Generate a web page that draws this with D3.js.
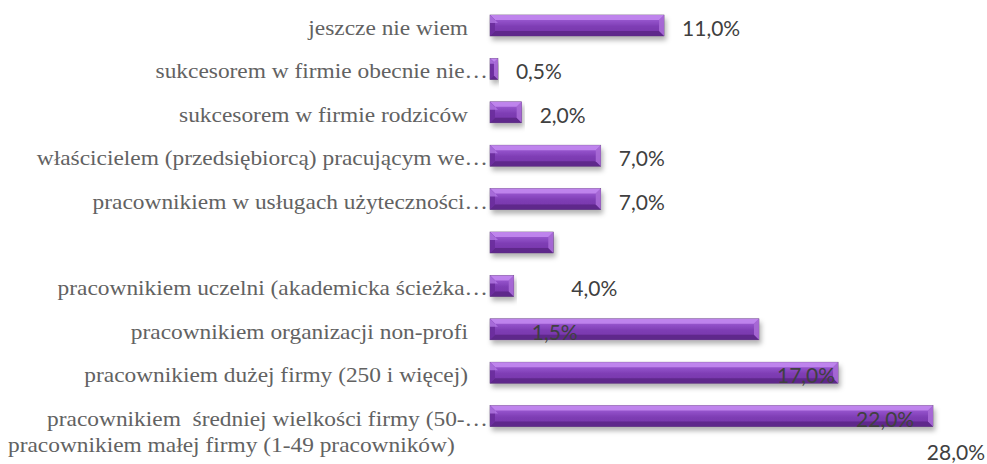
<!DOCTYPE html>
<html>
<head>
<meta charset="utf-8">
<script src="https://cdn.jsdelivr.net/npm/d3@7"></script>
<style>
	html, body
	{
		margin: 0;
		padding: 0;
		background: #ffffff;
	}
	svg
	{
		display: block;
	}
	.cat
	{
		font-family: 'Liberation Serif', 'DejaVu Serif', serif;
		font-size: 20px;
		fill: #626262;
		white-space: pre;
	}
	.val
	{
		font-family: Lato, 'Open Sans', sans-serif;
		font-size: 21px;
		fill: #404040;
	}
</style>
</head>
<body>
<div id="chart"></div>
<script>
'use strict';

	// one entry per row, top to bottom (row 6 has no category text in the source)
	var arrayCategories = [
		'jeszcze nie wiem',
		'sukcesorem w firmie obecnie nie…',
		'sukcesorem w firmie rodziców',
		'właścicielem (przedsiębiorcą) pracującym we…',
		'pracownikiem w usługach użyteczności…',
		'',
		'pracownikiem uczelni (akademicka ścieżka…',
		'pracownikiem organizacji non-profi',
		'pracownikiem dużej firmy (250 i więcej)',
		'pracownikiem  średniej wielkości firmy (50-…',
		'pracownikiem małej firmy (1-49 pracowników)'
	];

	// bar lengths per row (%), null = no bar drawn
	var arrayBarValues = [11, 0.5, 2, 7, 7, 4, 1.5, 17, 22, 28, null];

	// data labels per row (%), as they sit in the source (shifted by one row from row 6 on)
	var arrayLabelValues = [11, 0.5, 2, 7, 7, null, 4, 1.5, 17, 22, 28];

	var nWidth = 987;
	var nHeight = 464;
	var fStretch = 1.17;   // the category text is drawn a bit wide in the source

	var svg = d3.select('#chart')
		.append('svg')
		.attr('width', nWidth)
		.attr('height', nHeight);

	var x = d3.scaleLinear()
		.domain([0, 28])
		.range([490, 933]);

	var y = d3.scalePoint()
		.domain(d3.range(arrayCategories.length))
		.range([25.5, 459.5]);

	var nBarHeight = 21;
	var nBevel = 5;

	var defs = svg.append('defs');

	var gradBody = defs.append('linearGradient')
		.attr('id', 'gradBody')
		.attr('x1', 0).attr('y1', 0).attr('x2', 0).attr('y2', 1);
	[
		['0%', '#a562d8'],
		['30%', '#9150c8'],
		['55%', '#7e3db4'],
		['100%', '#7434a8']
	].forEach(function(arrayStop)
	{
		gradBody.append('stop').attr('offset', arrayStop[0]).attr('stop-color', arrayStop[1]);
	});

	var shadow = defs.append('filter')
		.attr('id', 'barShadow')
		.attr('x', '-10%').attr('y', '-30%')
		.attr('width', '120%').attr('height', '200%');
	shadow.append('feDropShadow')
		.attr('dx', 2)
		.attr('dy', 4)
		.attr('stdDeviation', 2.5)
		.attr('flood-color', '#000000')
		.attr('flood-opacity', 0.3);

	var arrayBars = arrayBarValues
		.map(function(fValue, nIndex) { return {row: nIndex, value: fValue}; })
		.filter(function(d) { return d.value != null; });

	var gBars = svg.append('g');

	var gBar = gBars.selectAll('g.bar')
		.data(arrayBars)
		.enter()
		.append('g')
		.attr('class', 'bar');

	gBar.append('rect')
		.attr('x', x(0))
		.attr('y', function(d) { return y(d.row) - nBarHeight / 2; })
		.attr('width', function(d) { return x(d.value) - x(0); })
		.attr('height', nBarHeight)
		.attr('fill', 'url(#gradBody)')
		.attr('stroke', '#5d4470')
		.attr('stroke-width', 0.6)
		.attr('filter', 'url(#barShadow)');

	// bevel faces: top, bottom, left, right
	function BevelPoints(d, strSide)
	{
		var x0 = x(0);
		var x1 = x(d.value);
		var y0 = y(d.row) - nBarHeight / 2;
		var y1 = y(d.row) + nBarHeight / 2;
		var b = Math.min(nBevel, (x1 - x0) / 2);
		var arrayPts;
		if (strSide == 'top')
		{
			arrayPts = [[x0, y0], [x1, y0], [x1 - b, y0 + b], [x0 + b, y0 + b]];
		}
		else if (strSide == 'bottom')
		{
			arrayPts = [[x0, y1], [x1, y1], [x1 - b, y1 - b], [x0 + b, y1 - b]];
		}
		else if (strSide == 'left')
		{
			arrayPts = [[x0, y0], [x0 + b, y0 + b], [x0 + b, y1 - b], [x0, y1]];
		}
		else
		{
			arrayPts = [[x1, y0], [x1 - b, y0 + b], [x1 - b, y1 - b], [x1, y1]];
		}
		return arrayPts.map(function(p) { return p.join(','); }).join(' ');
	}

	var objBevelColors = {
		top: '#c288f0',
		bottom: '#5c2787',
		left: '#6a2e9c',
		right: '#a86ad6'
	};

	['top', 'bottom', 'left', 'right'].forEach(function(strSide)
	{
		gBar.append('polygon')
			.attr('points', function(d) { return BevelPoints(d, strSide); })
			.attr('fill', objBevelColors[strSide])
			.attr('opacity', 0.9);
	});

	// left top highlight triangle, as in the source bevel
	gBar.append('polygon')
		.attr('points', function(d)
		{
			var x0 = x(0);
			var y0 = y(d.row) - nBarHeight / 2;
			var b = Math.min(nBevel + 3, (x(d.value) - x0) / 1.5);
			return [[x0, y0], [x0 + b, y0 + b], [x0, y0 + b]].map(function(p) { return p.join(','); }).join(' ');
		})
		.attr('fill', '#b47ae6')
		.attr('opacity', 0.8);

	// category labels
	var fCatMaxY = 452;
	var gCats = svg.append('g');
	gCats.selectAll('text')
		.data(arrayCategories)
		.enter()
		.append('text')
		.attr('class', 'cat')
		.attr('text-anchor', 'end')
		.text(function(d) { return d; })
		.each(function(d, i)
		{
			var fRight = (d.slice(-1) == '…') ? 488 : 468;
			var fY = y(i) + 9.5;
			var sel = d3.select(this);
			if (fY > fCatMaxY)
			{
				// label pushed up to fit: the source sets it flush with the left edge
				sel.attr('text-anchor', 'start');
				sel.attr('transform', 'translate(8,' + fCatMaxY + ') scale(' + fStretch + ',1)');
			}
			else
			{
				sel.attr('transform', 'translate(' + fRight + ',' + fY + ') scale(' + fStretch + ',1)');
			}
		});

	// data labels
	var localePL = d3.formatLocale({decimal: ',', thousands: ' ', grouping: [3], currency: ['', ' zł']});
	var formatPct = localePL.format('.1f');

	var arrayLabels = arrayLabelValues
		.map(function(fValue, nIndex) { return {row: nIndex, value: fValue}; })
		.filter(function(d) { return d.value != null; });

	svg.append('g')
		.selectAll('text')
		.data(arrayLabels)
		.enter()
		.append('text')
		.attr('class', 'val')
		.attr('y', function(d) { return Math.min(y(d.row) + 10.5, 460); })
		.text(function(d) { return formatPct(d.value) + '%'; })
		.each(function(d)
		{
			// keep the label inside the picture, as the source does for the last one
			var fX = x(d.value) + 18;
			var fLen = this.getComputedTextLength();
			d3.select(this).attr('x', Math.min(fX, nWidth - 2 - fLen));
		});

</script>
</body>
</html>
